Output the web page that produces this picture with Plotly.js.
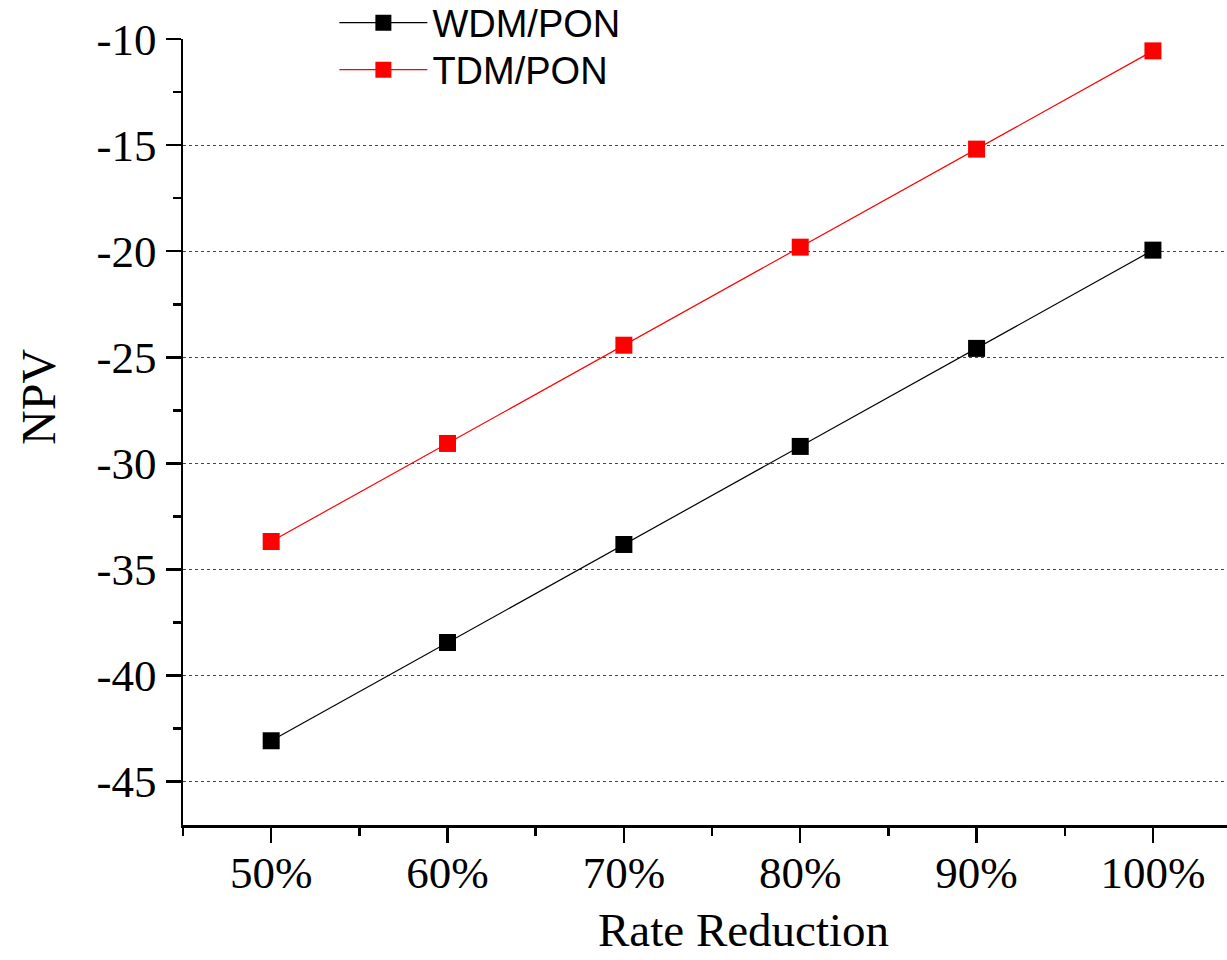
<!DOCTYPE html>
<html>
<head>
<meta charset="utf-8">
<script src="https://cdn.plot.ly/plotly-3.0.1.min.js"></script>
<style>html,body{margin:0;padding:0;background:#fff;}#chart{width:1227px;height:960px;}</style>
</head>
<body>
<div id="chart"></div>
<script>
var rateReduction = [50, 60, 70, 80, 90, 100];
var wdmPon = [-43.07, -38.44, -33.82, -29.20, -24.58, -19.95];
var tdmPon = [-33.68, -29.06, -24.43, -19.81, -15.19, -10.56];
var seriesNames = ['WDM/PON', 'TDM/PON'];
var yTicks = [-10, -15, -20, -25, -30, -35, -40, -45];
var yTickText = ['-10', '-15', '-20', '-25', '-30', '-35', '-40', '-45'];
var xTicks = [50, 60, 70, 80, 90, 100];
var xTickText = ['50%', '60%', '70%', '80%', '90%', '100%'];
var xTitle = 'Rate Reduction';
var yTitle = 'NPV';

var traces = [
  {x: rateReduction, y: wdmPon, name: seriesNames[0], type: 'scatter', mode: 'lines+markers', legend: 'legend',
   line: {color: '#000000', width: 1.2}, marker: {symbol: 'square', size: 17, color: '#000000'}},
  {x: rateReduction, y: tdmPon, name: seriesNames[1], type: 'scatter', mode: 'lines+markers', legend: 'legend2',
   line: {color: '#ff0000', width: 1.2}, marker: {symbol: 'square', size: 17, color: '#ff0000'}}
];

var serif = 'Liberation Serif, Times New Roman, serif';
var legendFont = {family: 'Liberation Sans, Arial, sans-serif', size: 38, color: '#000'};
var layout = {
  width: 1227, height: 960,
  margin: {l: 183, r: 0, t: 39, b: 135, autoexpand: false},
  paper_bgcolor: '#ffffff', plot_bgcolor: '#ffffff',
  showlegend: true,
  legend: {x: 0.145, y: 1.0204, xanchor: 'left', yanchor: 'middle', bgcolor: 'rgba(0,0,0,0)',
           font: legendFont, itemwidth: 88},
  legend2: {x: 0.145, y: 0.9606, xanchor: 'left', yanchor: 'middle', bgcolor: 'rgba(0,0,0,0)',
           font: legendFont, itemwidth: 88},
  xaxis: {
    range: [45, 104.2], tickmode: 'array', tickvals: xTicks, ticktext: xTickText,
    showline: true, linecolor: '#000', linewidth: 2.5, mirror: false,
    ticks: 'outside', ticklen: 15, tickwidth: 2.5, tickcolor: '#000',
    ticklabelstandoff: -9,
    showgrid: false, zeroline: false,
    tickfont: {family: serif, size: 45, color: '#000'},
    minor: {dtick: 5, tick0: 45, ticks: 'outside', ticklen: 8, tickwidth: 2.5, tickcolor: '#000', showgrid: false}
  },
  yaxis: {
    range: [-47.04, -10], tickmode: 'array', tickvals: yTicks, ticktext: yTickText,
    showline: true, linecolor: '#000', linewidth: 2.5,
    ticks: 'outside', ticklen: 15, tickwidth: 2.5, tickcolor: '#000',
    showgrid: true, gridcolor: '#444', griddash: 'dot', gridwidth: 1.2,
    zeroline: false,
    tickfont: {family: serif, size: 45, color: '#000'},
    minor: {dtick: 2.5, tick0: -10, ticks: 'outside', ticklen: 8, tickwidth: 2.5, tickcolor: '#000', showgrid: false}
  },
  annotations: [
    {text: xTitle, xref: 'paper', yref: 'paper', x: 0.5364, y: -0.1336, xanchor: 'center', yanchor: 'middle',
     showarrow: false, borderpad: 0, font: {family: serif, size: 47, color: '#000'}},
    {text: yTitle, xref: 'paper', yref: 'paper', x: -0.139, y: 0.5445, xanchor: 'center', yanchor: 'middle',
     textangle: -90, showarrow: false, font: {family: serif, size: 48, color: '#000'}}
  ]
};
Plotly.newPlot('chart', traces, layout, {displayModeBar: false, staticPlot: true});
</script>
</body>
</html>
